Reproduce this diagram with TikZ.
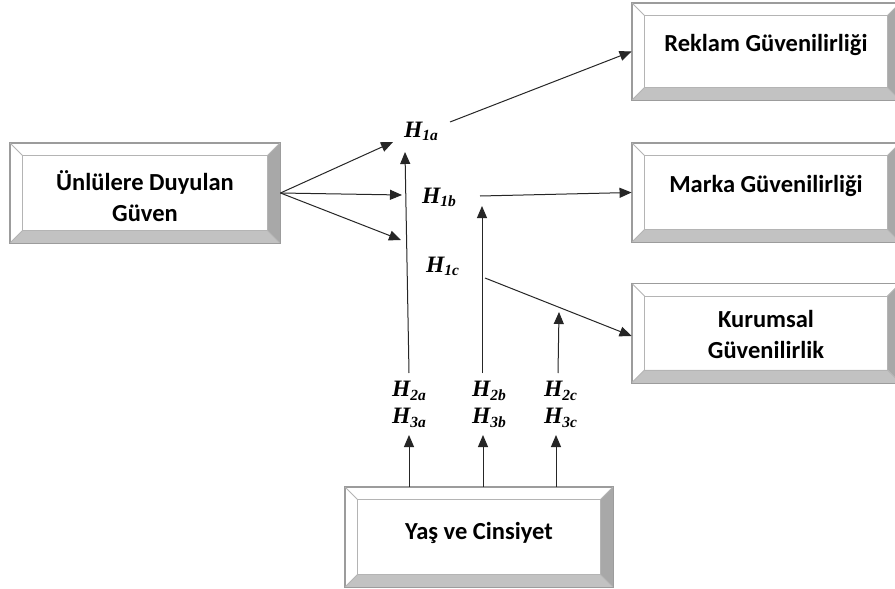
\documentclass[tikz,border=0pt]{standalone}
\usepackage{fontspec}
\setmainfont{Carlito}
\newfontfamily\hfont{Liberation Serif}
\usetikzlibrary{arrows.meta}
\definecolor{bevline}{HTML}{9C9C9C}
\definecolor{bevinner}{HTML}{B4B4B4}
\definecolor{bevR}{HTML}{A8A8A8}
\definecolor{bevB}{HTML}{C2C2C2}
\newcommand\Hlab[2]{H\raisebox{-3.5pt}{\fontsize{15.5}{15.5}\selectfont #1#2}}
\newcommand\bevel[1]{%
  \fill[bevR] (#1.north east) -- (#1.south east) -- ([xshift=-13pt,yshift=13pt]#1.south east) -- ([xshift=-13pt,yshift=-13pt]#1.north east) -- cycle;
  \fill[bevB] (#1.south west) -- (#1.south east) -- ([xshift=-13pt,yshift=13pt]#1.south east) -- ([xshift=13pt,yshift=13pt]#1.south west) -- cycle;
  \draw[bevinner, line width=0.8pt] ([xshift=13pt,yshift=-13pt]#1.north west) rectangle ([xshift=-13pt,yshift=13pt]#1.south east);
  \draw[bevinner, line width=0.8pt] (#1.north west) -- ([xshift=13pt,yshift=-13pt]#1.north west)
        (#1.north east) -- ([xshift=-13pt,yshift=-13pt]#1.north east)
        (#1.south west) -- ([xshift=13pt,yshift=13pt]#1.south west)
        (#1.south east) -- ([xshift=-13pt,yshift=13pt]#1.south east);
  \draw[bevline, line width=0.9pt] (#1.north west) rectangle (#1.south east);
}
\begin{document}
\begin{tikzpicture}[x=1pt,y=-1pt,
  box/.style={minimum width=268pt, minimum height=99pt, inner sep=0pt, fill=white, draw=bevline, line width=0.9pt},
  boxtext/.style={font=\fontsize{24.5}{31}\selectfont\bfseries, align=center, inner sep=0pt},
  hlab/.style={font=\hfont\fontsize{23.5}{27}\selectfont\bfseries\itshape, align=left, inner sep=0pt},
  arr/.style={draw=black!85, line width=1pt, -{Triangle[length=12pt,width=10pt]}},
]
\useasboundingbox[fill=white] (0,0) rectangle (895,589);

% boxes
\node[box, minimum width=270pt, minimum height=100pt] (un) at (145,193) {};
\node[box, minimum height=97pt] (rek) at (766,51.5) {};
\node[box] (mar) at (766,192.5) {};
\node[box] (kur) at (766,333) {};
\node[box, minimum height=100pt] (yas) at (479,537) {};
\bevel{un}\bevel{rek}\bevel{mar}\bevel{kur}\bevel{yas}

% box texts
\node[boxtext] (unT) at ([yshift=-3pt]un.center) {Ünlülere Duyulan\\Güven};
\node[boxtext, anchor=base] (rekT) at (rek.center) {Reklam Güvenilirliği};
\node[boxtext, anchor=base] (marT) at (mar.center) {Marka Güvenilirliği};
\node[boxtext] (kurT) at ([yshift=-1pt]kur.center) {Kurumsal\\Güvenilirlik};
\node[boxtext, anchor=base] (yasT) at ([yshift=-2pt]yas.center) {Yaş ve Cinsiyet};

% hypothesis labels
\node[hlab, anchor=base west] (h1a) at (404,137) {\Hlab1a};
\node[hlab, anchor=base west] (h1b) at (422,203) {\Hlab1b};
\node[hlab, anchor=base west] (h1c) at (426,272) {\Hlab1c};
\node[hlab, anchor=north west] (h23a) at (392,381) {\Hlab2a\\\Hlab3a};
\node[hlab, anchor=north west] (h23b) at (472,381) {\Hlab2b\\\Hlab3b};
\node[hlab, anchor=north west] (h23c) at (544,381) {\Hlab2c\\\Hlab3c};

% free ends
\coordinate (f1) at (393,142);
\coordinate (f2) at (402,195);
\coordinate (f3) at (401,240);
\coordinate (v1b) at (409,373);
\coordinate (v1t) at (405,152);
\coordinate (s1) at (450,122);
\coordinate (s2) at (480,196);
\coordinate (v2b) at (482,373);
\coordinate (v2t) at (482,206);
\coordinate (s3) at (485,278);
\coordinate (v3b) at (558,373);
\coordinate (v3t) at (559,312);
\coordinate (u1) at (409,435);
\coordinate (u2) at (483,435);
\coordinate (u3) at (556,435);

% connectors
\draw[arr] (un.east) -- (f1);
\draw[arr] (un.east) -- (f2);
\draw[arr] (un.east) -- (f3);
\draw[arr] (v1b) -- (v1t);
\draw[arr] (s1) -- (rek.west);
\draw[arr] (s2) -- (mar.west);
\draw[arr] (v2b) -- (v2t);
\draw[arr] (s3) -- ([yshift=-3pt]kur.west);
\draw[arr] (v3b) -- (v3t);
\draw[arr] ([xshift=-70pt]yas.north) -- (u1);
\draw[arr] ([xshift=4pt]yas.north) -- (u2);
\draw[arr] ([xshift=77pt]yas.north) -- (u3);
\end{tikzpicture}
\end{document}
